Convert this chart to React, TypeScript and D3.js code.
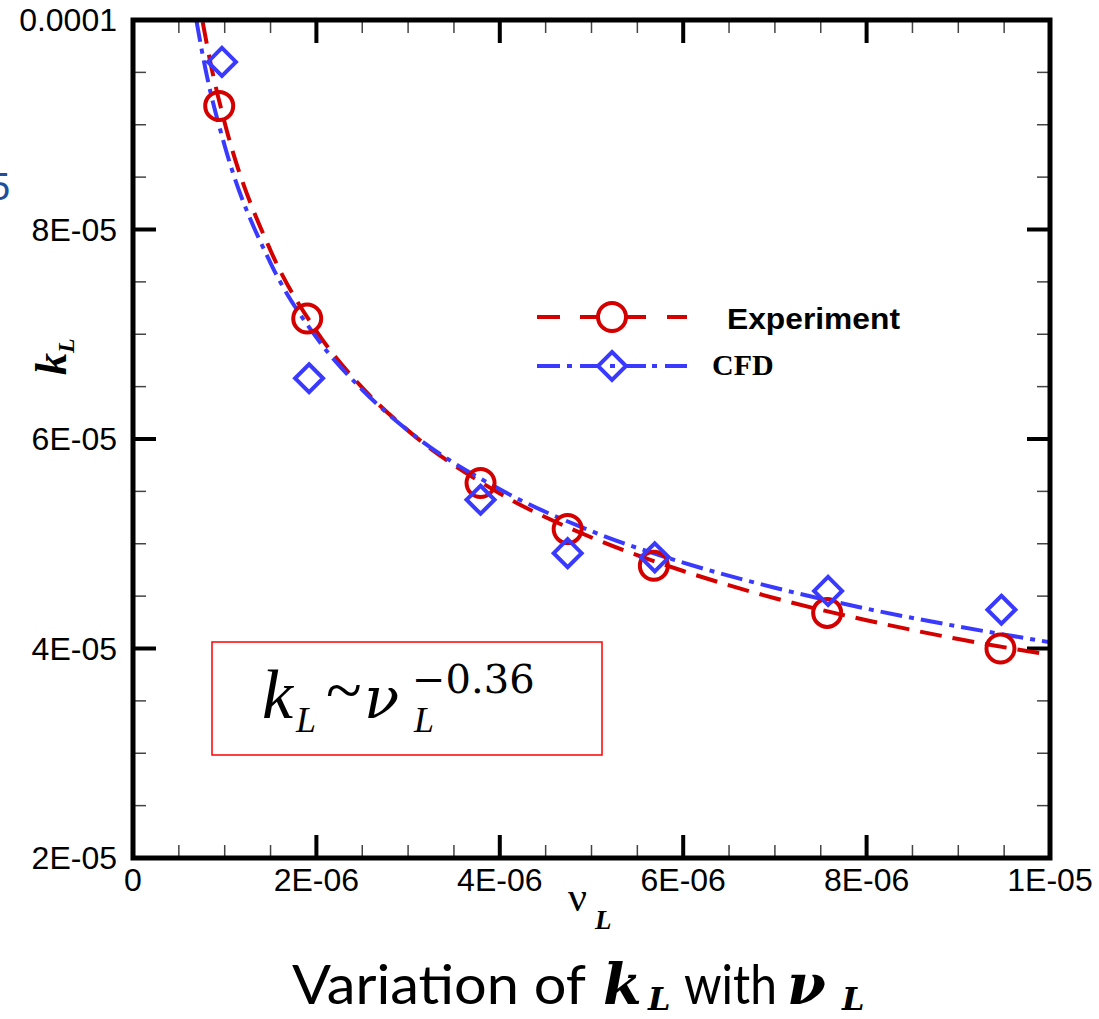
import React from 'react';
import * as d3 from 'd3';

// tick values + labels
const xTicks = [0, 2e-6, 4e-6, 6e-6, 8e-6, 1e-5];
const xTickLabels = ['0', '2E-06', '4E-06', '6E-06', '8E-06', '1E-05'];
const yTicks = [2e-5, 4e-5, 6e-5, 8e-5, 1e-4];
const yTickLabels = ['2E-05', '4E-05', '6E-05', '8E-05', '0.0001'];

// measured points
const nuExp = [0.94e-6, 1.9e-6, 3.79e-6, 4.74e-6, 5.68e-6, 7.57e-6, 9.46e-6];
const kExp = [9.18e-5, 7.15e-5, 5.58e-5, 5.14e-5, 4.79e-5, 4.34e-5, 4.0e-5];
const nuCfd = [0.97e-6, 1.92e-6, 3.79e-6, 4.74e-6, 5.69e-6, 7.58e-6, 9.47e-6];
const kCfd = [9.6e-5, 6.58e-5, 5.42e-5, 4.91e-5, 4.87e-5, 4.55e-5, 4.37e-5];

// fitted curves
const nuFitExp = [0.76e-6, 0.85e-6, 1e-6, 1.5e-6, 2e-6, 2.5e-6, 3e-6, 4e-6, 5e-6, 6e-6, 7e-6, 8e-6, 9e-6, 1e-5];
const kFitExp = [9.98e-5, 9.57e-5, 9.02e-5, 7.8e-5, 7.03e-5, 6.49e-5, 6.08e-5, 5.48e-5, 5.06e-5, 4.74e-5, 4.48e-5, 4.27e-5, 4.09e-5, 3.94e-5];
const nuFitCfd = [0.69e-6, 0.8e-6, 1e-6, 1.5e-6, 2e-6, 2.5e-6, 3e-6, 4e-6, 5e-6, 6e-6, 7e-6, 8e-6, 9e-6, 1e-5];
const kFitCfd = [1e-4, 9.49e-5, 8.8e-5, 7.68e-5, 6.97e-5, 6.47e-5, 6.08e-5, 5.52e-5, 5.12e-5, 4.82e-5, 4.58e-5, 4.38e-5, 4.21e-5, 4.06e-5];

const RED = '#d40000';
const BLUE = '#3a3aff';

const left = 133, right = 1050, top = 20, bottom = 858;

export default function App() {
    const x = d3.scaleLinear().domain([0, 1e-5]).range([left, right]);
    const y = d3.scaleLinear().domain([2e-5, 1e-4]).range([bottom, top]);

    const xMinor = d3.range(0, 1e-5 + 1e-12, 5e-7).filter((_, i) => i % 4 !== 0);
    const yMinor = d3.range(2e-5, 1e-4 + 1e-12, 5e-6).filter((_, i) => i % 4 !== 0);

    const expPath = d3.line<number>().curve(d3.curveMonotoneX)
        .x(d => x(nuFitExp[d])).y(d => y(kFitExp[d]))(d3.range(nuFitExp.length));
    const cfdPath = d3.line<number>().curve(d3.curveMonotoneX)
        .x(d => x(nuFitCfd[d])).y(d => y(kFitCfd[d]))(d3.range(nuFitCfd.length));

    const diamond = (cx: number, cy: number, r: number) =>
        `M${cx},${cy - r}L${cx + r},${cy}L${cx},${cy + r}L${cx - r},${cy}Z`;

    const tickFont = { fontFamily: 'Liberation Sans, Arial, sans-serif', fontSize: 32 };
    const mathBI = { fontFamily: 'DejaVu Serif, serif', fontWeight: 'bold', fontStyle: 'italic' } as const;

    return (
        <svg width={1099} height={1019} style={{ position: 'absolute', left: 0, top: 0, background: '#fff' }}>
            <defs>
                <clipPath id="plot">
                    <rect x={left} y={top} width={right - left} height={bottom - top} />
                </clipPath>
            </defs>

            {/* cropped remnant at the left edge */}
            <text x={-11} y={200} fill="#1f4e9c" fontFamily="Liberation Sans, Arial, sans-serif" fontSize={38}>5</text>

            {/* minor ticks, all four sides */}
            {xMinor.map((v, i) => (
                <g key={'xm' + i} stroke="#444" strokeWidth={1.5}>
                    <line x1={x(v)} x2={x(v)} y1={bottom} y2={bottom - 13} />
                    <line x1={x(v)} x2={x(v)} y1={top} y2={top + 13} />
                </g>
            ))}
            {yMinor.map((v, i) => (
                <g key={'ym' + i} stroke="#444" strokeWidth={1.5}>
                    <line x1={left} x2={left + 13} y1={y(v)} y2={y(v)} />
                    <line x1={right} x2={right - 13} y1={y(v)} y2={y(v)} />
                </g>
            ))}
            {/* major ticks */}
            {xTicks.map((v, i) => (
                <g key={'xt' + i}>
                    <line x1={x(v)} x2={x(v)} y1={bottom} y2={bottom - 23} stroke="#000" strokeWidth={4} />
                    <line x1={x(v)} x2={x(v)} y1={top} y2={top + 23} stroke="#000" strokeWidth={4} />
                    <text x={x(v)} y={891} textAnchor="middle" {...tickFont}>{xTickLabels[i]}</text>
                </g>
            ))}
            {yTicks.map((v, i) => (
                <g key={'yt' + i}>
                    <line x1={left} x2={left + 23} y1={y(v)} y2={y(v)} stroke="#000" strokeWidth={4} />
                    <line x1={right} x2={right - 23} y1={y(v)} y2={y(v)} stroke="#000" strokeWidth={4} />
                    <text x={117} y={y(v) + 11} textAnchor="end" {...tickFont}>{yTickLabels[i]}</text>
                </g>
            ))}

            {/* fitted curves */}
            <g clipPath="url(#plot)" fill="none" strokeWidth={4}>
                <path d={expPath || ''} stroke={RED} strokeDasharray="22,11" />
                <path d={cfdPath || ''} stroke={BLUE} strokeDasharray="22,7,5,7" />
            </g>

            {/* markers */}
            {nuExp.map((v, i) => (
                <circle key={'c' + i} cx={x(v)} cy={y(kExp[i])} r={14} fill="none" stroke={RED} strokeWidth={4} />
            ))}
            {nuCfd.map((v, i) => (
                <path key={'d' + i} d={diamond(x(v), y(kCfd[i]), 14)} fill="none" stroke={BLUE} strokeWidth={4} />
            ))}

            {/* frame */}
            <rect x={left} y={top} width={right - left} height={bottom - top} fill="none" stroke="#000" strokeWidth={5} />

            {/* legend */}
            <g strokeWidth={4}>
                <path d="M537,317H560M580,317H598M626,317H646M667,317H687" stroke={RED} />
                <circle cx={612} cy={317} r={14} fill="none" stroke={RED} />
                <path d="M537,366H560M567,366H572M580,366H598M626,366H646M652,366H657M665,366H687" stroke={BLUE} />
                <path d={diamond(612, 366, 14)} fill="none" stroke={BLUE} />
                <path d="M610,366H615" stroke={BLUE} />
            </g>
            <text x={727} y={329} fontFamily="Liberation Sans, Arial, sans-serif" fontWeight="bold" fontSize={30}
                textLength={173} lengthAdjust="spacingAndGlyphs">Experiment</text>
            <text x={712} y={375} fontFamily="Liberation Serif, Times New Roman, serif" fontWeight="bold" fontSize={30}>CFD</text>

            {/* axis titles */}
            <text transform="translate(66,375) rotate(-90)" fontFamily="Liberation Serif, serif" fontWeight="bold" fontStyle="italic">
                <tspan fontSize={44}>k</tspan>
                <tspan fontSize={24} dy={8}>L</tspan>
            </text>
            <text x={568} y={911} fontFamily="Liberation Serif, serif" fontSize={42}>ν</text>
            <text x={595} y={929} fontFamily="Liberation Serif, serif" fontSize={27} fontWeight="bold" fontStyle="italic">L</text>

            {/* formula box */}
            <rect x={212} y={642} width={390} height={113} fill="none" stroke="#ff0000" strokeWidth={1.5} />
            <g fill="#000">
                <text x={262} y={718} fontFamily="Liberation Serif, serif" fontSize={70} fontStyle="italic">k</text>
                <text x={296} y={732} fontFamily="Liberation Serif, serif" fontSize={36} fontStyle="italic">L</text>
                <text x={326} y={712} fontFamily="Liberation Serif, serif" fontSize={66}>~</text>
                <text x={364} y={718} fontFamily="DejaVu Serif, serif" fontSize={58} fontStyle="italic">ν</text>
                <text x={414} y={732} fontFamily="Liberation Serif, serif" fontSize={36} fontStyle="italic">L</text>
                <text x={412} y={693} fontFamily="DejaVu Serif, serif" fontSize={40}>−0.36</text>
            </g>

            {/* caption */}
            <g fill="#000">
                <text x={292} y={1004} fontFamily="Lato, Open Sans, sans-serif" fontSize={55}
                    textLength={294} lengthAdjust="spacingAndGlyphs">Variation of</text>
                <text x={603} y={1004} fontSize={56} {...mathBI}>k</text>
                <text x={648} y={1010} fontSize={32} {...mathBI}>L</text>
                <text x={684} y={1004} fontFamily="Lato, Open Sans, sans-serif" fontSize={55}
                    textLength={93} lengthAdjust="spacingAndGlyphs">with</text>
                <text x={787} y={1004} fontSize={56} {...mathBI}>ν</text>
                <text x={842} y={1010} fontSize={32} {...mathBI}>L</text>
            </g>
        </svg>
    );
}
